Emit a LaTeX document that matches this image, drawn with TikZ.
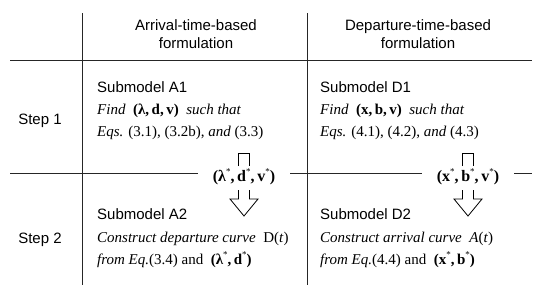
\documentclass[tikz,border=0pt]{standalone}
\usepackage{fontspec}
\setmainfont{Liberation Serif}
\setsansfont{Liberation Sans}
\usepackage{tikz}
\usetikzlibrary{calc}

\newcommand{\starsup}{\raisebox{0.9ex}{\normalfont\fontsize{9}{9}\selectfont *}}
% open block arrow broken by the result node
\newcommand{\openarrow}[1]{%
  \draw[blk] ($(#1)+(-5.5,-11)$) -- ($(#1)+(-5.5,-24)$) -- ($(#1)+(5.5,-24)$) -- ($(#1)+(5.5,-11)$);
  \draw[blk] ($(#1)+(-5.5,13)$) -- ($(#1)+(-5.5,22)$) -- ($(#1)+(-14,22)$) -- ($(#1)+(0,39)$)
    -- ($(#1)+(14,22)$) -- ($(#1)+(5.5,22)$) -- ($(#1)+(5.5,13)$);}

\begin{document}
\begin{tikzpicture}[x=1pt, y=-1pt,
  rule/.style={line width=0.9pt, black!85},
  blk/.style={line width=0.8pt, line join=miter},
  head/.style={font=\fontsize{15}{18}\selectfont\sffamily, align=center, inner sep=0pt},
  lbl/.style={font=\fontsize{15}{18}\selectfont\sffamily, anchor=base west, inner sep=0pt},
  body/.style={font=\fontsize{15}{18}\selectfont, anchor=base west, inner sep=0pt},
  result/.style={font=\fontsize{16}{18}\selectfont, inner xsep=15pt, inner ysep=0pt}]
  \useasboundingbox (0,0) rectangle (545,293);

  % Table rules
  \coordinate (colAtop) at (82,13);
  \coordinate (colAbot) at (82,285);
  \coordinate (colDtop) at (307,13);
  \coordinate (colDbot) at (307,285);
  \coordinate (headL) at (10,60);
  \coordinate (headR) at (532,60);
  \draw[rule] (colAtop) -- (colAbot);
  \draw[rule] (colDtop) -- (colDbot);
  \draw[rule] (headL) -- (headR);

  % Column headers
  \node[head] (hdArr) at (196,34) {Arrival-time-based\\formulation};
  \node[head] (hdDep) at (418,34) {Departure-time-based\\formulation};

  % Row labels
  \node[lbl, anchor=base] (stepOne) at (40,124) {Step 1};
  \node[lbl, anchor=base] (stepTwo) at (40,243) {Step 2};

  % Step 1
  \node[lbl] (subAone) at (97,92) {Submodel A1};
  \node[body] (findA) at (97,114) {\textit{Find}\enspace\textbf{(λ,\,d,\,v)}\enspace\textit{such that}};
  \node[body] (eqsA) at (97,136) {\textit{Eqs.} (3.1), (3.2b), \textit{and} (3.3)};
  \node[lbl] (subDone) at (320,92) {Submodel D1};
  \node[body] (findD) at (320,114) {\textit{Find}\enspace\textbf{(x,\,b,\,v)}\enspace\textit{such that}};
  \node[body] (eqsD) at (320,136) {\textit{Eqs.} (4.1), (4.2), \textit{and} (4.3)};

  % Results passed on
  \node[result] (resA) at (244,177) {\textbf{(λ\starsup,\,d\starsup,\,v\starsup)}};
  \node[result] (resD) at (468,177) {\textbf{(x\starsup,\,b\starsup,\,v\starsup)}};
  \openarrow{resA}
  \openarrow{resD}

  % Row rule, broken by the results
  \coordinate (rowL) at (10,173);
  \coordinate (rowR) at (532,173);
  \draw[rule] (rowL) -- (rowL -| resA.west);
  \draw[rule] (rowL -| resA.east) -- (rowL -| resD.west);
  \draw[rule] (rowL -| resD.east) -- (rowR);

  % Step 2
  \node[lbl] (subAtwo) at (97,219) {Submodel A2};
  \node[body] (curveA) at (97,242) {\textit{Construct departure curve}\enspace D(\textit{t})};
  \node[body] (fromA) at (97,264) {\textit{from Eq.}(3.4) and\enspace\textbf{(λ\starsup,\,d\starsup)}};
  \node[lbl] (subDtwo) at (320,219) {Submodel D2};
  \node[body] (curveD) at (320,242) {\textit{Construct arrival curve}\enspace\textit{A}(\textit{t})};
  \node[body] (fromD) at (320,264) {\textit{from Eq.}(4.4) and\enspace\textbf{(x\starsup,\,b\starsup)}};
\end{tikzpicture}
\end{document}
